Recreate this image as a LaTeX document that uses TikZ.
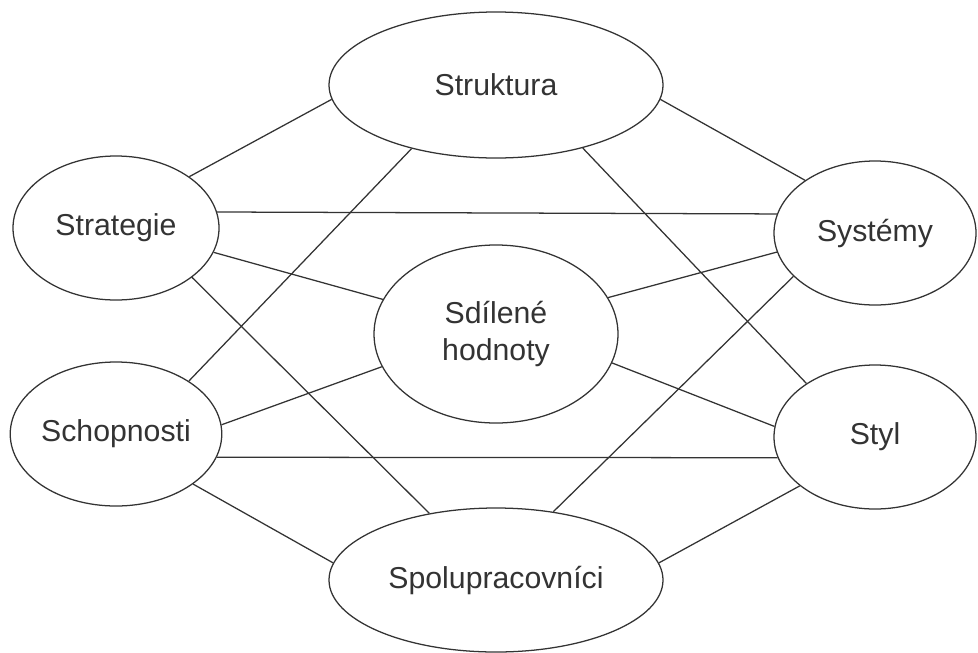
\documentclass[tikz,border=0pt]{standalone}
\usepackage{fontspec}
\setmainfont{Liberation Sans}
\usetikzlibrary{shapes.geometric}
\begin{document}
\begin{tikzpicture}[x=0.025cm,y=-0.025cm,line width=0.9pt,draw=black!80,
  every node/.style={font=\fontsize{21.5}{26}\selectfont,text=black!80},
  sev/.style={ellipse,draw=black!80,inner sep=0pt,fill=white}]
\useasboundingbox (0,0) rectangle (978,652);
% the seven S
\node[sev,minimum width=334*0.025cm,minimum height=146*0.025cm] (struk) at (496,85) {Struktura};
\node[sev,minimum width=206*0.025cm,minimum height=144*0.025cm] (strat) at (116,228) {Strategie};
\node[sev,minimum width=208*0.025cm,minimum height=144*0.025cm] (schop) at (116,434) {Schopnosti};
\node[sev,minimum width=202*0.025cm,minimum height=144*0.025cm] (sys) at (875,233) {Systémy};
\node[sev,minimum width=202*0.025cm,minimum height=144*0.025cm] (styl) at (875,437) {Styl};
\node[sev,minimum width=244*0.025cm,minimum height=178*0.025cm,align=center] (sdil) at (496,334) {Sdílené\\hodnoty};
\node[sev,minimum width=334*0.025cm,minimum height=144*0.025cm] (spol) at (496,580) {Spolupracovníci};
% links
\foreach \a/\b in {struk.185/strat.35,struk.355/sys.143,struk.217/schop.36,struk.324/styl.142,
  strat.9/sys.169,strat.-14/sdil.163,strat.-33/spol.135,
  schop.5/sdil.196,schop.-13/styl.192,schop.-33/spol.174,
  sys.191/sdil.18,sys.208/spol.50,styl.174/sdil.346,styl.213/spol.6}
  \draw (\a) -- (\b);
\end{tikzpicture}
\end{document}
